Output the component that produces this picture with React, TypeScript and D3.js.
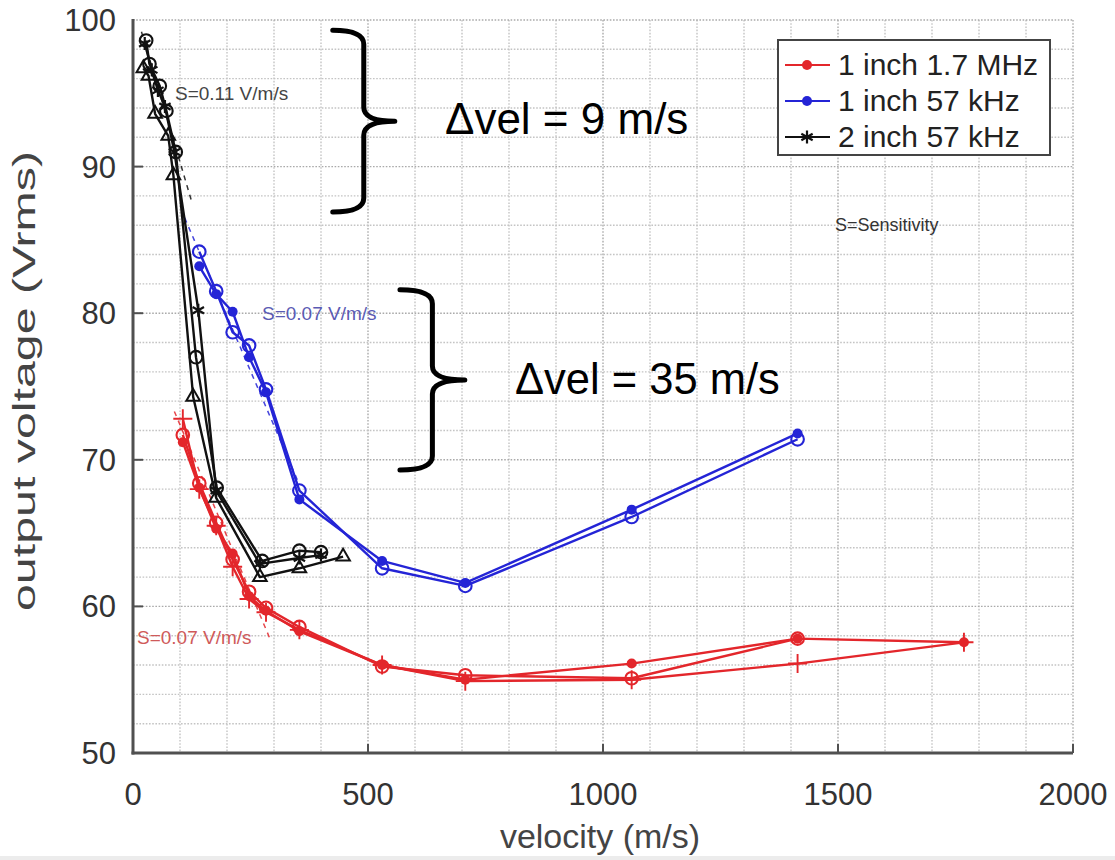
import React from "react";
import * as d3 from "d3";

type Pt = [number, number]; // [velocity (m/s), output voltage (Vrms)]

// Axis ticks
const X_TICKS = [0, 500, 1000, 1500, 2000];
const Y_TICKS = [50, 60, 70, 80, 90, 100];
const X_MINOR = d3.range(0, 2001, 100);
const Y_MINOR = d3.range(50, 100.1, 2);

// 1 inch 1.7 MHz runs
const RED_DOT: Pt[] = [[106, 71.2], [141, 68.1], [177, 65.3], [212, 63.6], [247, 60.7], [283, 59.7], [354, 58.3], [530, 56.0], [707, 55.0], [1061, 56.1], [1414, 57.8], [1768, 57.55]];
const RED_CIRCLE: Pt[] = [[106, 71.7], [141, 68.4], [177, 65.7], [212, 63.2], [247, 61.0], [283, 59.9], [354, 58.6], [530, 55.9], [707, 55.3], [1061, 55.1], [1414, 57.8]];
const RED_PLUS: Pt[] = [[106, 72.8], [141, 68.0], [177, 65.5], [212, 62.7], [247, 60.5], [283, 59.6], [354, 58.4], [530, 56.0], [707, 54.9], [1061, 55.0], [1414, 56.1], [1768, 57.55]];

// 1 inch 57 kHz runs
const BLUE_DOT: Pt[] = [[141, 83.2], [177, 81.3], [212, 80.1], [247, 77.0], [283, 74.6], [354, 67.3], [530, 63.1], [707, 61.6], [1061, 66.6], [1414, 71.8]];
const BLUE_CIRCLE: Pt[] = [[141, 84.2], [177, 81.5], [212, 78.7], [247, 77.8], [283, 74.8], [354, 67.9], [530, 62.6], [707, 61.4], [1061, 66.1], [1414, 71.4]];

// 2 inch 57 kHz runs
const BLACK_STAR: Pt[] = [[25, 98.4], [40, 96.6], [53, 95.2], [68, 94.1], [88, 91.0], [139, 80.2], [177, 67.9], [270, 62.9], [354, 63.3], [400, 63.5]];
const BLACK_CIRCLE: Pt[] = [[28, 98.6], [35, 97.0], [57, 95.5], [71, 93.8], [91, 91.0], [134, 77.0], [178, 68.1], [275, 63.1], [354, 63.8], [400, 63.7]];
const BLACK_TRI: Pt[] = [[22, 96.7], [33, 96.2], [47, 93.6], [75, 92.1], [86, 89.4], [128, 74.3], [177, 67.4], [270, 62.0], [354, 62.6], [447, 63.4]];

// Sensitivity fit lines
const RED_FIT: Pt[] = [[88, 73.3], [290, 57.9]];
const BLUE_FIT: Pt[] = [[110, 86.5], [350, 68.6]];
const BLACK_FIT: Pt[] = [[18, 99.2], [125, 87.6]];

// Legend
const LEGEND_LABELS = ["1 inch 1.7 MHz", "1 inch 57 kHz", "2 inch 57 kHz"];

const RED = "#e3262b";
const BLUE = "#2424d6";
const BLACK = "#111111";

type MarkerKind = "dot" | "circle" | "plus" | "star" | "tri";

const SERIES: { data: Pt[]; color: string; marker: MarkerKind }[] = [
  { data: RED_PLUS, color: RED, marker: "plus" },
  { data: RED_CIRCLE, color: RED, marker: "circle" },
  { data: RED_DOT, color: RED, marker: "dot" },
  { data: BLUE_CIRCLE, color: BLUE, marker: "circle" },
  { data: BLUE_DOT, color: BLUE, marker: "dot" },
  { data: BLACK_TRI, color: BLACK, marker: "tri" },
  { data: BLACK_CIRCLE, color: BLACK, marker: "circle" },
  { data: BLACK_STAR, color: BLACK, marker: "star" },
];

const FITS: { data: Pt[]; color: string }[] = [
  { data: RED_FIT, color: RED },
  { data: BLUE_FIT, color: BLUE },
  { data: BLACK_FIT, color: BLACK },
];

const W = 1115;
const H = 860;
const FONT = "'Liberation Sans', Arial, Helvetica, sans-serif";

const x = d3.scaleLinear().domain([0, 2000]).range([133, 1073]);
const y = d3.scaleLinear().domain([50, 100]).range([753, 20]);

const line = d3
  .line<Pt>()
  .x((d) => x(d[0]))
  .y((d) => y(d[1]));

const triPath = d3.symbol(d3.symbolTriangle, 80)() as string;
const starPath = d3.symbol(d3.symbolAsterisk, 120)() as string;
const plusPath = d3.symbol(d3.symbolPlus, 120)() as string;

function Marker({ kind, cx, cy, color }: { kind: MarkerKind; cx: number; cy: number; color: string }) {
  const t = `translate(${cx},${cy})`;
  switch (kind) {
    case "dot":
      return <circle cx={cx} cy={cy} r={5} fill={color} />;
    case "circle":
      return <circle cx={cx} cy={cy} r={6.3} fill="none" stroke={color} strokeWidth={2.1} />;
    case "tri":
      return <path transform={t} d={triPath} fill="none" stroke={color} strokeWidth={2} />;
    case "star":
      return <path transform={t} d={starPath} fill="none" stroke={color} strokeWidth={2.2} />;
    case "plus":
      return <path transform={t} d={plusPath} fill="none" stroke={color} strokeWidth={1.9} />;
  }
}

// Curly brace opening to the left, pointing right at its middle
function bracePath(x0: number, yTop: number, yBot: number, w: number): string {
  const xm = x0 + w * 0.5;
  const mid = (yTop + yBot) / 2;
  const r = 14;
  return [
    `M${x0},${yTop}`,
    `Q${xm},${yTop} ${xm},${yTop + r}`,
    `L${xm},${mid - r}`,
    `Q${xm},${mid} ${x0 + w},${mid}`,
    `Q${xm},${mid} ${xm},${mid + r}`,
    `L${xm},${yBot - r}`,
    `Q${xm},${yBot} ${x0},${yBot}`,
  ].join(" ");
}

// Brace spans in data units: [velocity start, velocity tip, voltage top, voltage bottom]
const BRACE_SMALL = [425, 557, 99.3, 86.9];
const BRACE_LARGE = [568, 706, 81.6, 69.3];

export default function App() {
  const [xMin, xMax] = x.range();
  const [yBot, yTop] = y.range();
  return (
    <svg
      width={W}
      height={H}
      viewBox={`0 0 ${W} ${H}`}
      style={{ position: "absolute", left: 0, top: 0, background: "#ffffff", display: "block" }}
      fontFamily={FONT}
    >
      <rect x={0} y={0} width={W} height={H} fill="#ffffff" />
      <rect x={0} y={856} width={W} height={4} fill="#ececec" />

      {/* grid */}
      <g strokeDasharray="1.6,1.6" fill="none">
        {X_MINOR.map((v) => (
          <line key={`gx${v}`} x1={x(v)} x2={x(v)} y1={yTop} y2={yBot} stroke={v % 500 === 0 ? "#aaaaaa" : "#c4c4c4"} strokeWidth={1.4} />
        ))}
        {Y_MINOR.map((v) => (
          <line key={`gy${v}`} x1={xMin} x2={xMax} y1={y(v)} y2={y(v)} stroke={v % 10 === 0 ? "#aaaaaa" : "#c4c4c4"} strokeWidth={1.4} />
        ))}
      </g>

      {/* sensitivity fits */}
      {FITS.map((f, i) => (
        <path key={`fit${i}`} d={line(f.data) as string} fill="none" stroke={f.color} strokeWidth={1.5} strokeDasharray="5,5" opacity={0.85} />
      ))}

      {/* traces */}
      {SERIES.map((s, i) => (
        <path key={`ln${i}`} d={line(s.data) as string} fill="none" stroke={s.color} strokeWidth={2.4} strokeLinejoin="round" />
      ))}
      {SERIES.map((s, i) => (
        <g key={`mk${i}`}>
          {s.data.map((d, j) => (
            <Marker key={j} kind={s.marker} cx={x(d[0])} cy={y(d[1])} color={s.color} />
          ))}
        </g>
      ))}

      {/* axes */}
      <g stroke="#505050" strokeWidth={3} fill="none">
        <line x1={xMin} x2={xMin} y1={yTop - 1} y2={yBot + 1.5} />
        <line x1={xMin - 1.5} x2={xMax} y1={yBot} y2={yBot} />
        {X_TICKS.slice(1).map((v) => (
          <line key={`xt${v}`} x1={x(v)} x2={x(v)} y1={yBot} y2={yBot - 9} strokeWidth={2} />
        ))}
        {Y_TICKS.slice(1, -1).map((v) => (
          <line key={`yt${v}`} x1={xMin} x2={xMin + 10} y1={y(v)} y2={y(v)} strokeWidth={2} />
        ))}
      </g>

      {/* tick labels */}
      <g fill="#333333" fontSize={31}>
        {X_TICKS.map((v) => (
          <text key={`xl${v}`} x={x(v)} y={805} textAnchor="middle">
            {v}
          </text>
        ))}
        {Y_TICKS.map((v) => (
          <text key={`yl${v}`} x={116} y={y(v) + 11} textAnchor="end">
            {v}
          </text>
        ))}
      </g>

      {/* axis titles */}
      <text x={600} y={848} textAnchor="middle" fontSize={34} fill="#444444">
        velocity (m/s)
      </text>
      <text
        transform={`translate(35,381) rotate(-90)`}
        textAnchor="middle"
        fontSize={31}
        fill="#444444"
        textLength={460}
        lengthAdjust="spacingAndGlyphs"
      >
        output voltage (Vrms)
      </text>

      {/* sensitivity notes */}
      <text x={175} y={100} fontSize={19} fill="#444444">S=0.11 V/m/s</text>
      <text x={262} y={320} fontSize={19} fill="#5a5ab4">S=0.07 V/m/s</text>
      <text x={137} y={644} fontSize={19} fill="#cf5a5a">S=0.07 V/m/s</text>
      <text x={835} y={231} fontSize={18} fill="#333333">S=Sensitivity</text>

      {/* braces and velocity spans */}
      {[BRACE_SMALL, BRACE_LARGE].map((b, i) => (
        <path
          key={`br${i}`}
          d={bracePath(x(b[0]), y(b[2]), y(b[3]), x(b[1]) - x(b[0]))}
          fill="none"
          stroke="#000000"
          strokeWidth={5}
          strokeLinecap="round"
          strokeLinejoin="round"
        />
      ))}
      <text x={445} y={134} fontSize={44} fill="#000000">Δvel = 9 m/s</text>
      <text x={515} y={394} fontSize={43.5} fill="#000000">Δvel = 35 m/s</text>

      {/* legend */}
      <g>
        <rect x={778} y={40} width={272} height={115} fill="#ffffff" stroke="#444444" strokeWidth={2} />
        {LEGEND_LABELS.map((lab, i) => {
          const ly = 65 + i * 36;
          const s = [SERIES[2], SERIES[4], SERIES[7]][i];
          return (
            <g key={lab}>
              <line x1={785} x2={830} y1={ly} y2={ly} stroke={s.color} strokeWidth={2} />
              <Marker kind={s.marker} cx={807} cy={ly} color={s.color} />
              <text x={838} y={ly + 10} fontSize={30} fill="#222222">
                {lab}
              </text>
            </g>
          );
        })}
      </g>
    </svg>
  );
}
